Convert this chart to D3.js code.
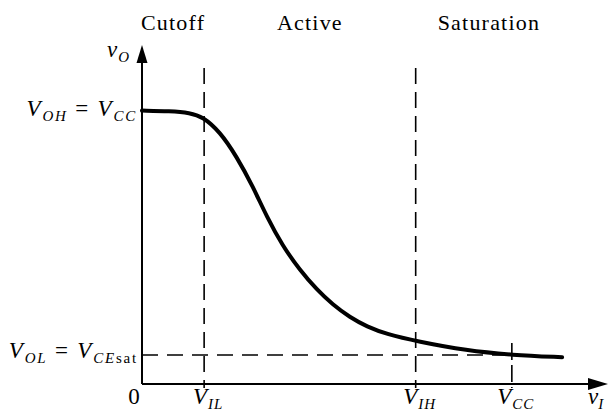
<!DOCTYPE html>
<html>
<head>
<meta charset="utf-8">
<script src="https://cdn.jsdelivr.net/npm/d3@7"></script>
<style>
  body { margin: 0; background: #fff; }
  svg { display: block; }
  text { font-family: "Liberation Serif", "DejaVu Serif", serif; }
</style>
</head>
<body>
<svg id="chart"></svg>
<script>
// transfer characteristic (units: V_CC = 5)
const vIn = [0, 0.38, 0.65, 0.82, 1.05, 1.28, 1.5, 1.69, 1.9, 2.13, 2.36, 2.58, 2.81, 3.04, 3.31, 3.72, 4.39, 5.0, 5.68];
const vOut = [5.0, 4.99, 4.96, 4.89, 4.62, 4.16, 3.61, 3.05, 2.53, 2.09, 1.73, 1.45, 1.22, 1.05, 0.91, 0.78, 0.61, 0.53, 0.49];

const VIL = 0.84;
const VIH = 3.7;
const VCC = 5;
const VOH = 5;
const VOL = 0.53;

const regions = ["Cutoff", "Active", "Saturation"];

const width = 612;
const height = 412;

const svg = d3.select("#chart").attr("width", width).attr("height", height);

const x = d3.scaleLinear().domain([0, 6.3]).range([142, 608]);
const y = d3.scaleLinear().domain([0, 6.2]).range([384, 45]);

const g = svg.append("g");

// dashed guide lines
[VIL, VIH].forEach(v => {
    g.append("line")
        .attr("x1", x(v)).attr("x2", x(v))
        .attr("y1", 68).attr("y2", y(0) + 4)
        .attr("stroke", "#000")
        .attr("stroke-width", 1.6)
        .attr("stroke-dasharray", "16,8");
});

g.append("line")
    .attr("x1", x(VCC)).attr("x2", x(VCC))
    .attr("y1", y(VOL) - 12).attr("y2", y(0) + 4)
    .attr("stroke", "#000")
    .attr("stroke-width", 1.6)
    .attr("stroke-dasharray", "17,5");

g.append("line")
    .attr("x1", x(0)).attr("x2", x(VCC))
    .attr("y1", y(VOL)).attr("y2", y(VOL))
    .attr("stroke", "#000")
    .attr("stroke-width", 1.6)
    .attr("stroke-dasharray", "16,9");

// axes
const xEnd = x.range()[1];
const yEnd = y.range()[1];

g.append("line")
    .attr("x1", x(0)).attr("x2", xEnd - 14)
    .attr("y1", y(0)).attr("y2", y(0))
    .attr("stroke", "#000").attr("stroke-width", 2);

g.append("line")
    .attr("x1", x(0)).attr("x2", x(0))
    .attr("y1", y(0)).attr("y2", yEnd + 14)
    .attr("stroke", "#000").attr("stroke-width", 2);

g.append("path")
    .attr("d", `M${xEnd},${y(0)} L${xEnd - 20},${y(0) - 6} L${xEnd - 20},${y(0) + 6} Z`)
    .attr("fill", "#000");
g.append("path")
    .attr("d", `M${x(0)},${yEnd} L${x(0) - 5.5},${yEnd + 18} L${x(0) + 5.5},${yEnd + 18} Z`)
    .attr("fill", "#000");

// curve
const pts = vIn.map((v, i) => [v, vOut[i]]);
const line = d3.line()
    .x(d => x(d[0]))
    .y(d => y(d[1]))
    .curve(d3.curveBasis);

g.append("path")
    .datum(pts)
    .attr("d", line)
    .attr("fill", "none")
    .attr("stroke", "#000")
    .attr("stroke-width", 4)
    .attr("stroke-linecap", "round");

// region titles
const bounds = [0, VIL, VIH, vIn[vIn.length - 1]];
g.selectAll(".region")
    .data(regions)
    .enter()
    .append("text")
    .attr("class", "region")
    .attr("x", (d, i) => (x(bounds[i]) + x(bounds[i + 1])) / 2)
    .attr("y", 30)
    .attr("text-anchor", "middle")
    .attr("font-size", 22)
    .attr("letter-spacing", 1.2)
    .text(d => d);

// math labels built from tspans
function mathLabel(sel, parts, big, small) {
    let shift = 0;
    parts.forEach(p => {
        const ts = sel.append("tspan")
            .text(p.t)
            .attr("font-style", p.roman ? "normal" : "italic")
            .attr("font-size", p.sub ? small : big);
        const target = p.sub ? 5 : 0;
        if (target !== shift) {
            ts.attr("dy", target - shift);
            shift = target;
        }
    });
}

function label(px, py, anchor, parts, spacing) {
    const t = g.append("text")
        .attr("x", px)
        .attr("y", py)
        .attr("text-anchor", anchor)
        .attr("letter-spacing", spacing || 0);
    mathLabel(t, parts, 23, 15);
    return t;
}

const eq = "\u00a0=\u00a0";
label(x(0) - 5, y(VOH) + 5, "end", [
    { t: "V" }, { t: "OH", sub: true }, { t: eq, roman: true }, { t: "V" }, { t: "CC", sub: true }
], 1.8);
label(x(0) - 4, y(VOL) + 3, "end", [
    { t: "V" }, { t: "OL", sub: true }, { t: eq, roman: true }, { t: "V" }, { t: "CE", sub: true }, { t: "sat", sub: true, roman: true }
], 1.8);
label(x(0) - 12, yEnd + 12, "end", [{ t: "v" }, { t: "O", sub: true }], 1);

label(x(0) - 8, y(0) + 20, "middle", [{ t: "0", roman: true }]);
label(x(VIL) + 4, y(0) + 20, "middle", [{ t: "V" }, { t: "IL", sub: true }], 1);
label(x(VIH) + 4, y(0) + 20, "middle", [{ t: "V" }, { t: "IH", sub: true }], 1);
label(x(VCC) + 4, y(0) + 20, "middle", [{ t: "V" }, { t: "CC", sub: true }], 1);
label(xEnd - 20, y(0) + 20, "start", [{ t: "v" }, { t: "I", sub: true }]);
</script>
</body>
</html>
